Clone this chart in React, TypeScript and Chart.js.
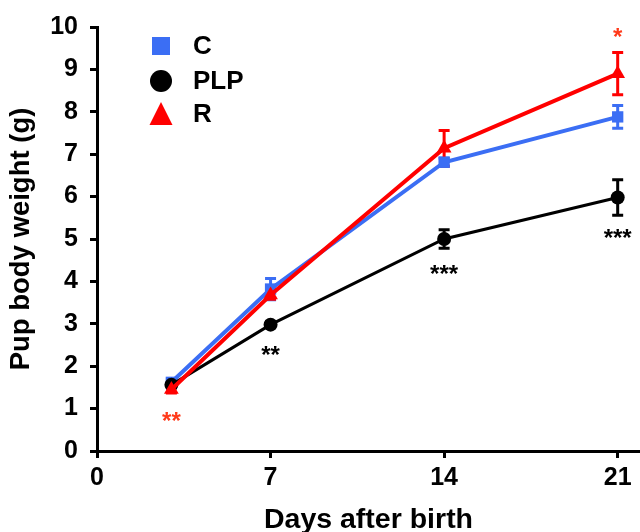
import React, { useEffect, useRef } from "react";
import { Chart, registerables } from "chart.js";

Chart.register(...registerables);

const DAYS = [3, 7, 14, 21];
const X_TICKS = [0, 7, 14, 21];
const Y_TICKS = [0, 1, 2, 3, 4, 5, 6, 7, 8, 9, 10];

const SERIES_NAMES = ["C", "PLP", "R"];
const C_MEAN = [1.62, 3.82, 6.81, 7.88];
const C_ERR = [0.08, 0.25, 0.1, 0.27];
const PLP_MEAN = [1.56, 2.98, 5.0, 5.98];
const PLP_ERR = [0.06, 0.07, 0.22, 0.42];
const R_MEAN = [1.45, 3.68, 7.14, 8.9];
const R_ERR = [0.08, 0.1, 0.42, 0.5];

const ANN_X = [3, 7, 14, 21, 21];
const ANN_Y = [0.8, 2.37, 4.28, 5.12, 9.85];
const ANN_TEXT = ["**", "**", "***", "***", "*"];
const ANN_SERIES = [2, 1, 1, 1, 2];

const BLUE = "#3b6ef4";
const BLACK = "#000000";
const RED = "#ff0000";
const STAR_RED = "#ff3a1a";

const FONT = "'Liberation Sans', Arial, Helvetica, sans-serif";

const errorBarsPlugin = {
  id: "errorBars",
  beforeDatasetsDraw(chart: any) {
    const { ctx, scales } = chart;
    const xs = scales.x;
    const ys = scales.y;
    chart.data.datasets.forEach((ds: any) => {
      const errs: number[] = ds.errors || [];
      ctx.save();
      ctx.strokeStyle = ds.borderColor;
      ctx.lineWidth = 3;
      ds.data.forEach((p: any, i: number) => {
        const e = errs[i];
        if (!e) return;
        const x = xs.getPixelForValue(p.x);
        const yTop = ys.getPixelForValue(p.y + e);
        const yBot = ys.getPixelForValue(p.y - e);
        const cap = 5.5;
        ctx.beginPath();
        ctx.moveTo(x, yTop);
        ctx.lineTo(x, yBot);
        ctx.moveTo(x - cap, yTop);
        ctx.lineTo(x + cap, yTop);
        ctx.moveTo(x - cap, yBot);
        ctx.lineTo(x + cap, yBot);
        ctx.stroke();
      });
      ctx.restore();
    });
  },
};

const starsPlugin = {
  id: "stars",
  afterDatasetsDraw(chart: any) {
    const { ctx, scales } = chart;
    ctx.save();
    ctx.font = `bold 24px ${FONT}`;
    ctx.textAlign = "center";
    ctx.textBaseline = "alphabetic";
    ANN_TEXT.forEach((t, i) => {
      const x = scales.x.getPixelForValue(ANN_X[i]);
      const y = scales.y.getPixelForValue(ANN_Y[i]);
      ctx.fillStyle = ANN_SERIES[i] === 2 ? STAR_RED : BLACK;
      ctx.fillText(t, x, y + 12);
    });
    ctx.restore();
  },
};

const legendPlugin = {
  id: "customLegend",
  afterDraw(chart: any) {
    const { ctx } = chart;
    const mx = 161;
    const tx = 193;
    const rows = [46, 81, 114];
    ctx.save();
    chart.data.datasets.forEach((ds: any, i: number) => {
      const y = rows[i];
      ctx.fillStyle = ds.borderColor;
      ctx.beginPath();
      if (ds.pointStyle === "rect") {
        ctx.rect(mx - 9, y - 9, 18, 18);
      } else if (ds.pointStyle === "circle") {
        ctx.arc(mx, y, 11, 0, Math.PI * 2);
      } else {
        ctx.moveTo(mx, y - 12);
        ctx.lineTo(mx + 11.5, y + 11);
        ctx.lineTo(mx - 11.5, y + 11);
        ctx.closePath();
      }
      ctx.fill();
      ctx.fillStyle = "#000";
      ctx.font = `bold 26px ${FONT}`;
      ctx.textAlign = "left";
      ctx.textBaseline = "middle";
      ctx.fillText(ds.label, tx, y + 1);
    });
    ctx.restore();
  },
};

function toPoints(vals: number[]) {
  return DAYS.map((d, i) => ({ x: d, y: vals[i] }));
}

export default function App() {
  const ref = useRef<HTMLCanvasElement | null>(null);

  useEffect(() => {
    if (!ref.current) return;
    const chart = new Chart(ref.current, {
      type: "line",
      data: {
        datasets: [
          {
            label: SERIES_NAMES[0],
            data: toPoints(C_MEAN),
            errors: C_ERR,
            borderColor: BLUE,
            backgroundColor: BLUE,
            borderWidth: 4,
            pointStyle: "rect",
            pointRadius: 8,
            pointBorderWidth: 0,
            order: 2,
          } as any,
          {
            label: SERIES_NAMES[1],
            data: toPoints(PLP_MEAN),
            errors: PLP_ERR,
            borderColor: BLACK,
            backgroundColor: BLACK,
            borderWidth: 3,
            pointStyle: "circle",
            pointRadius: 7,
            pointBorderWidth: 0,
            order: 1,
          } as any,
          {
            label: SERIES_NAMES[2],
            data: toPoints(R_MEAN),
            errors: R_ERR,
            borderColor: RED,
            backgroundColor: RED,
            borderWidth: 4,
            pointStyle: "triangle",
            pointRadius: 8.5,
            pointBorderWidth: 0,
            order: 0,
          } as any,
        ],
      },
      options: {
        responsive: false,
        animation: false,
        devicePixelRatio: 1,
        layout: { autoPadding: false, padding: { top: 21, right: 0, left: 0, bottom: 0 } },
        plugins: {
          legend: { display: false },
          tooltip: { enabled: false },
        },
        elements: { line: { tension: 0 } },
        scales: {
          x: {
            type: "linear",
            min: 0,
            max: 21.9,
            afterBuildTicks: (s: any) => {
              s.ticks = X_TICKS.map((v) => ({ value: v }));
            },
            afterFit: (s: any) => {
              s.height = 81;
              s.paddingRight = 0;
              s.paddingLeft = 0;
            },
            grid: {
              display: true,
              drawOnChartArea: false,
              drawTicks: true,
              tickLength: 7,
              color: "#000",
              lineWidth: 3,
            },
            border: { display: true, color: "#000", width: 3 },
            ticks: {
              color: "#000",
              padding: 5,
              maxRotation: 0,
              font: { family: FONT, size: 25, weight: "bold" },
            },
            title: {
              display: true,
              text: "Days after birth",
              color: "#000",
              padding: { top: 0, bottom: 0 },
              font: { family: FONT, size: 28.5, weight: "bold", lineHeight: 0.8 },
            },
          },
          y: {
            type: "linear",
            min: 0,
            max: 10,
            afterBuildTicks: (s: any) => {
              s.ticks = Y_TICKS.map((v) => ({ value: v }));
            },
            afterFit: (s: any) => {
              s.width = 97;
            },
            grid: {
              display: true,
              drawOnChartArea: false,
              drawTicks: true,
              tickLength: 7,
              color: "#000",
              lineWidth: 3,
            },
            border: { display: true, color: "#000", width: 3 },
            ticks: {
              color: "#000",
              padding: 12,
              font: { family: FONT, size: 25, weight: "bold" },
            },
            title: {
              display: true,
              text: "Pup body weight (g)",
              color: "#000",
              padding: { top: 5, bottom: 0 },
              font: { family: FONT, size: 27.5, weight: "bold", lineHeight: 1.2 },
            },
          },
        },
      } as any,
      plugins: [errorBarsPlugin, starsPlugin, legendPlugin],
    });
    return () => chart.destroy();
  }, []);

  return (
    <div style={{ position: "absolute", left: 0, top: 0, width: 640, height: 532, background: "#fff" }}>
      <canvas ref={ref} width={640} height={532} style={{ width: 640, height: 532 }} />
    </div>
  );
}
